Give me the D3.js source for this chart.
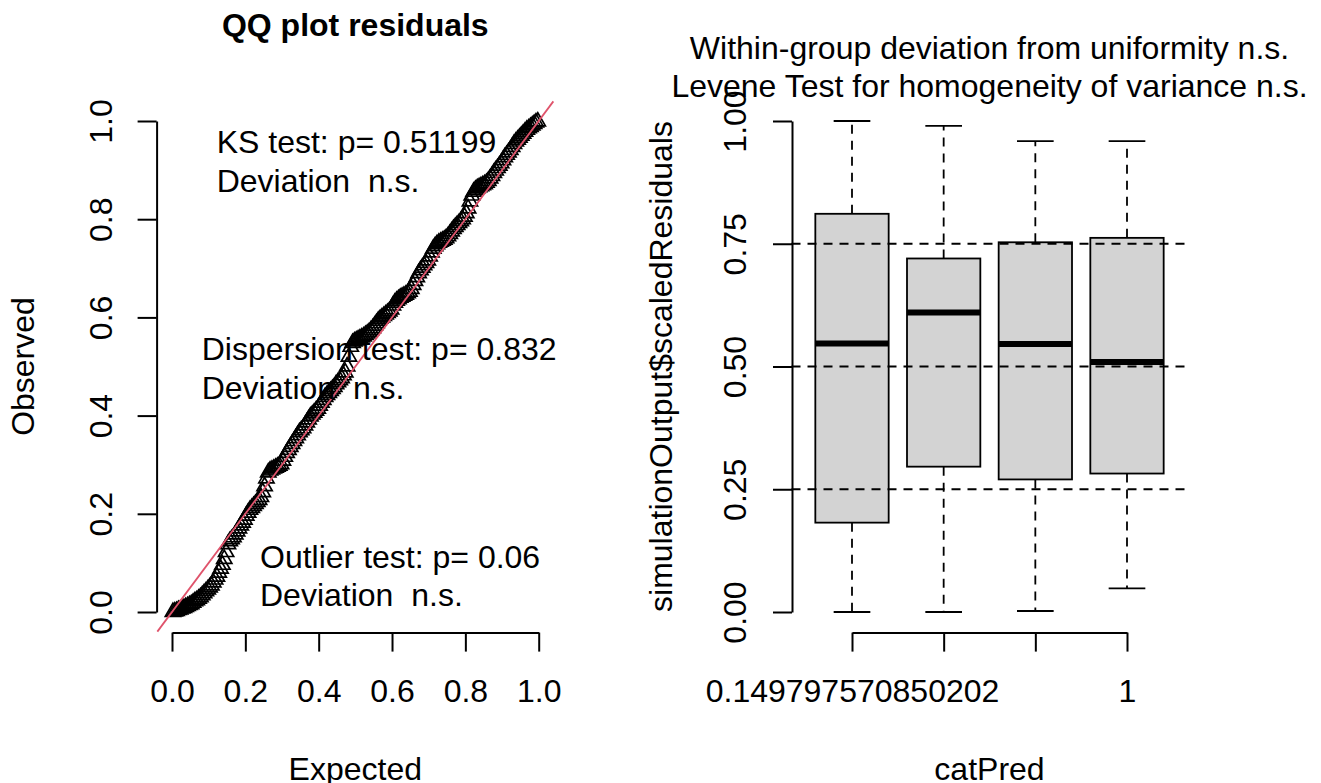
<!DOCTYPE html>
<html><head><meta charset="utf-8">
<script src="https://cdn.jsdelivr.net/npm/d3@7"></script>
<style>
body{margin:0;background:#fff}
svg{display:block;background:#fff}
text{font-family:"Liberation Sans",Arial,sans-serif;fill:#000}
</style>
</head><body>
<svg id="c" width="1321" height="783"></svg>
<script>
// ---------- data ----------
const qqObserved = [
 0.000,0.001,0.002,0.004,0.005,0.007,0.008,0.010,0.012,0.014,
 0.016,0.019,0.022,0.024,0.027,0.030,0.034,0.038,0.042,0.046,
 0.050,0.054,0.060,0.066,0.072,0.080,0.088,0.096,0.108,0.122,
 0.138,0.144,0.148,0.152,0.158,0.164,0.170,0.176,0.182,0.188,
 0.196,0.202,0.208,0.212,0.216,0.220,0.224,0.228,0.234,0.244,
 0.256,0.272,0.284,0.288,0.290,0.292,0.294,0.296,0.298,0.301,
 0.308,0.316,0.324,0.330,0.336,0.342,0.348,0.354,0.360,0.366,
 0.370,0.374,0.380,0.386,0.392,0.398,0.402,0.406,0.410,0.414,
 0.420,0.426,0.432,0.438,0.442,0.446,0.450,0.454,0.458,0.464,
 0.468,0.472,0.476,0.482,0.488,0.500,0.520,0.540,0.548,0.551,
 0.553,0.555,0.557,0.559,0.561,0.564,0.567,0.570,0.574,0.578,
 0.583,0.588,0.593,0.597,0.600,0.603,0.606,0.609,0.612,0.616,
 0.624,0.630,0.634,0.637,0.640,0.642,0.644,0.646,0.649,0.652,
 0.658,0.666,0.674,0.682,0.690,0.696,0.701,0.706,0.711,0.716,
 0.724,0.732,0.740,0.745,0.749,0.752,0.754,0.756,0.758,0.761,
 0.765,0.770,0.775,0.780,0.784,0.788,0.792,0.796,0.800,0.805,
 0.812,0.822,0.836,0.848,0.856,0.860,0.863,0.865,0.867,0.869,
 0.871,0.874,0.878,0.883,0.888,0.894,0.899,0.904,0.909,0.914,
 0.920,0.926,0.931,0.936,0.941,0.947,0.953,0.958,0.962,0.966,
 0.970,0.974,0.978,0.982,0.985,0.988,0.991,0.994,0.997,0.999
];
const qqTicks = [0, 0.2, 0.4, 0.6, 0.8, 1.0];
const qqTitle = "QQ plot residuals";
const qqXLabel = "Expected";
const qqYLabel = "Observed";
const ksLines = ["KS test: p= 0.51199", "Deviation  n.s."];
const dispLines = ["Dispersion test: p= 0.832", "Deviation  n.s."];
const outLines = ["Outlier test: p= 0.06", "Deviation  n.s."];

const groupLabels = ["0.149797570850202", "", "", "1"];
const boxLower  = [0.000, 0.000, 0.002, 0.048];
const boxQ1     = [0.182, 0.296, 0.270, 0.282];
const boxMedian = [0.547, 0.610, 0.546, 0.509];
const boxQ3     = [0.811, 0.720, 0.753, 0.762];
const boxUpper  = [1.000, 0.990, 0.959, 0.959];
const boxTicks = [0, 0.25, 0.5, 0.75, 1.0];
const refLines = [0.25, 0.5, 0.75];
const boxTitle = ["Within-group deviation from uniformity n.s.", "Levene Test for homogeneity of variance n.s."];
const boxXLabel = "catPred";
const boxYLabel = "simulationOutput$scaledResiduals";

// ---------- drawing ----------
const svg = d3.select("#c");
const FS = 32;
const ppoints = n => d3.range(n).map(i => (i + 0.5) / n);

function styleAxis(g){
  g.attr("font-family", null).attr("font-size", null);
  g.select(".domain").attr("stroke", "#000").attr("stroke-width", 2);
  g.selectAll(".tick line").attr("stroke", "#000").attr("stroke-width", 2);
  g.selectAll(".tick text").attr("font-size", FS).attr("fill", "#000");
}

// ===== Left panel: QQ plot =====
const x = d3.scaleLinear().domain([0, 1]).range([172, 538.7]);
const y = d3.scaleLinear().domain([0, 1]).range([612, 121]);

const gx = svg.append("g").attr("transform", "translate(0,632.6)")
  .call(d3.axisBottom(x).tickValues(qqTicks).tickFormat(d3.format(".1f")).tickSize(19).tickSizeOuter(0));
styleAxis(gx);
gx.selectAll(".tick text").attr("y", 69.4).attr("dy", 0);

const gy = svg.append("g").attr("transform", "translate(156.6,0)")
  .call(d3.axisLeft(y).tickValues(qqTicks).tickFormat(d3.format(".1f")).tickSize(19).tickSizeOuter(0));
styleAxis(gy);
gy.selectAll(".tick text").attr("x", 0).attr("y", 0).attr("dy", 0)
  .attr("text-anchor", "middle").attr("transform", "translate(-44.6,0) rotate(-90)");

const expected = ppoints(qqObserved.length);
const tri = d3.symbol().type(d3.symbolTriangle).size(100);
svg.append("g").selectAll("path").data(qqObserved).join("path")
  .attr("d", tri)
  .attr("transform", (d, i) => `translate(${x(expected[i])},${y(d)})`)
  .attr("fill", "none").attr("stroke", "#000").attr("stroke-width", 1.7);

svg.append("line")
  .attr("x1", x(-0.04)).attr("y1", y(-0.04)).attr("x2", x(1.04)).attr("y2", y(1.04))
  .attr("stroke", "#DF536B").attr("stroke-width", 1.8);

function textBlock(lines, xPos, y0, dy){
  lines.forEach((t, i) => svg.append("text").attr("x", xPos).attr("y", y0 + i * dy)
    .attr("font-size", FS).style("white-space", "pre").text(t));
}
textBlock(ksLines, 216.7, 153, 38.5);
textBlock(dispLines, 201.7, 360, 38.5);
textBlock(outLines, 260, 568, 38);

svg.append("text").attr("x", 355.3).attr("y", 36).attr("text-anchor", "middle")
  .attr("font-size", 32).attr("font-weight", "bold").text(qqTitle);
svg.append("text").attr("x", 355.3).attr("y", 780).attr("text-anchor", "middle")
  .attr("font-size", FS).text(qqXLabel);
svg.append("text").attr("transform", "translate(34,366.5) rotate(-90)").attr("text-anchor", "middle")
  .attr("font-size", FS).text(qqYLabel);

// ===== Right panel: boxplot =====
const xr = d3.scaleLinear().domain([1, 4]).range([852, 1127]);
const yr = d3.scaleLinear().domain([0, 1]).range([612, 121]);
const half = xr(1.4) - xr(1);
const capHalf = xr(1.2) - xr(1);
const idx = d3.range(groupLabels.length);

const gb = svg.append("g");
idx.forEach(i => {
  const cx = xr(i + 1);
  [[boxQ3[i], boxUpper[i]], [boxQ1[i], boxLower[i]]].forEach(([a, b]) => {
    gb.append("line").attr("x1", cx).attr("x2", cx).attr("y1", yr(a)).attr("y2", yr(b))
      .attr("stroke", "#000").attr("stroke-width", 1.8).attr("stroke-dasharray", "9,7");
    gb.append("line").attr("x1", cx - capHalf).attr("x2", cx + capHalf).attr("y1", yr(b)).attr("y2", yr(b))
      .attr("stroke", "#000").attr("stroke-width", 1.8);
  });
  gb.append("rect").attr("x", cx - half).attr("width", 2 * half)
    .attr("y", yr(boxQ3[i])).attr("height", yr(boxQ1[i]) - yr(boxQ3[i]))
    .attr("fill", "#D3D3D3").attr("stroke", "#000").attr("stroke-width", 1.8);
  gb.append("line").attr("x1", cx - half).attr("x2", cx + half)
    .attr("y1", yr(boxMedian[i])).attr("y2", yr(boxMedian[i]))
    .attr("stroke", "#000").attr("stroke-width", 6);
});

svg.append("g").selectAll("line").data(refLines).join("line")
  .attr("x1", xr(0.34)).attr("x2", xr(4.66)).attr("y1", d => yr(d)).attr("y2", d => yr(d))
  .attr("stroke", "#000").attr("stroke-width", 1.8).attr("stroke-dasharray", "9,7");

const gxr = svg.append("g").attr("transform", "translate(0,632.6)")
  .call(d3.axisBottom(xr).tickValues(idx.map(i => i + 1)).tickFormat((d, i) => groupLabels[i]).tickSize(19).tickSizeOuter(0));
styleAxis(gxr);
gxr.selectAll(".tick text").attr("y", 69.4).attr("dy", 0);

const gyr = svg.append("g").attr("transform", "translate(792,0)")
  .call(d3.axisLeft(yr).tickValues(boxTicks).tickFormat(d3.format(".2f")).tickSize(19).tickSizeOuter(0));
styleAxis(gyr);
gyr.selectAll(".tick text").attr("x", 0).attr("y", 0).attr("dy", 0)
  .attr("text-anchor", "middle").attr("transform", "translate(-46,0) rotate(-90)");

boxTitle.forEach((t, i) => svg.append("text").attr("x", 989.5).attr("y", 59 + i * 38)
  .attr("text-anchor", "middle").attr("font-size", FS).text(t));
svg.append("text").attr("x", 989.5).attr("y", 780).attr("text-anchor", "middle")
  .attr("font-size", FS).text(boxXLabel);
svg.append("text").attr("transform", "translate(672,366.5) rotate(-90)").attr("text-anchor", "middle")
  .attr("font-size", FS).text(boxYLabel);
</script>
</body></html>
